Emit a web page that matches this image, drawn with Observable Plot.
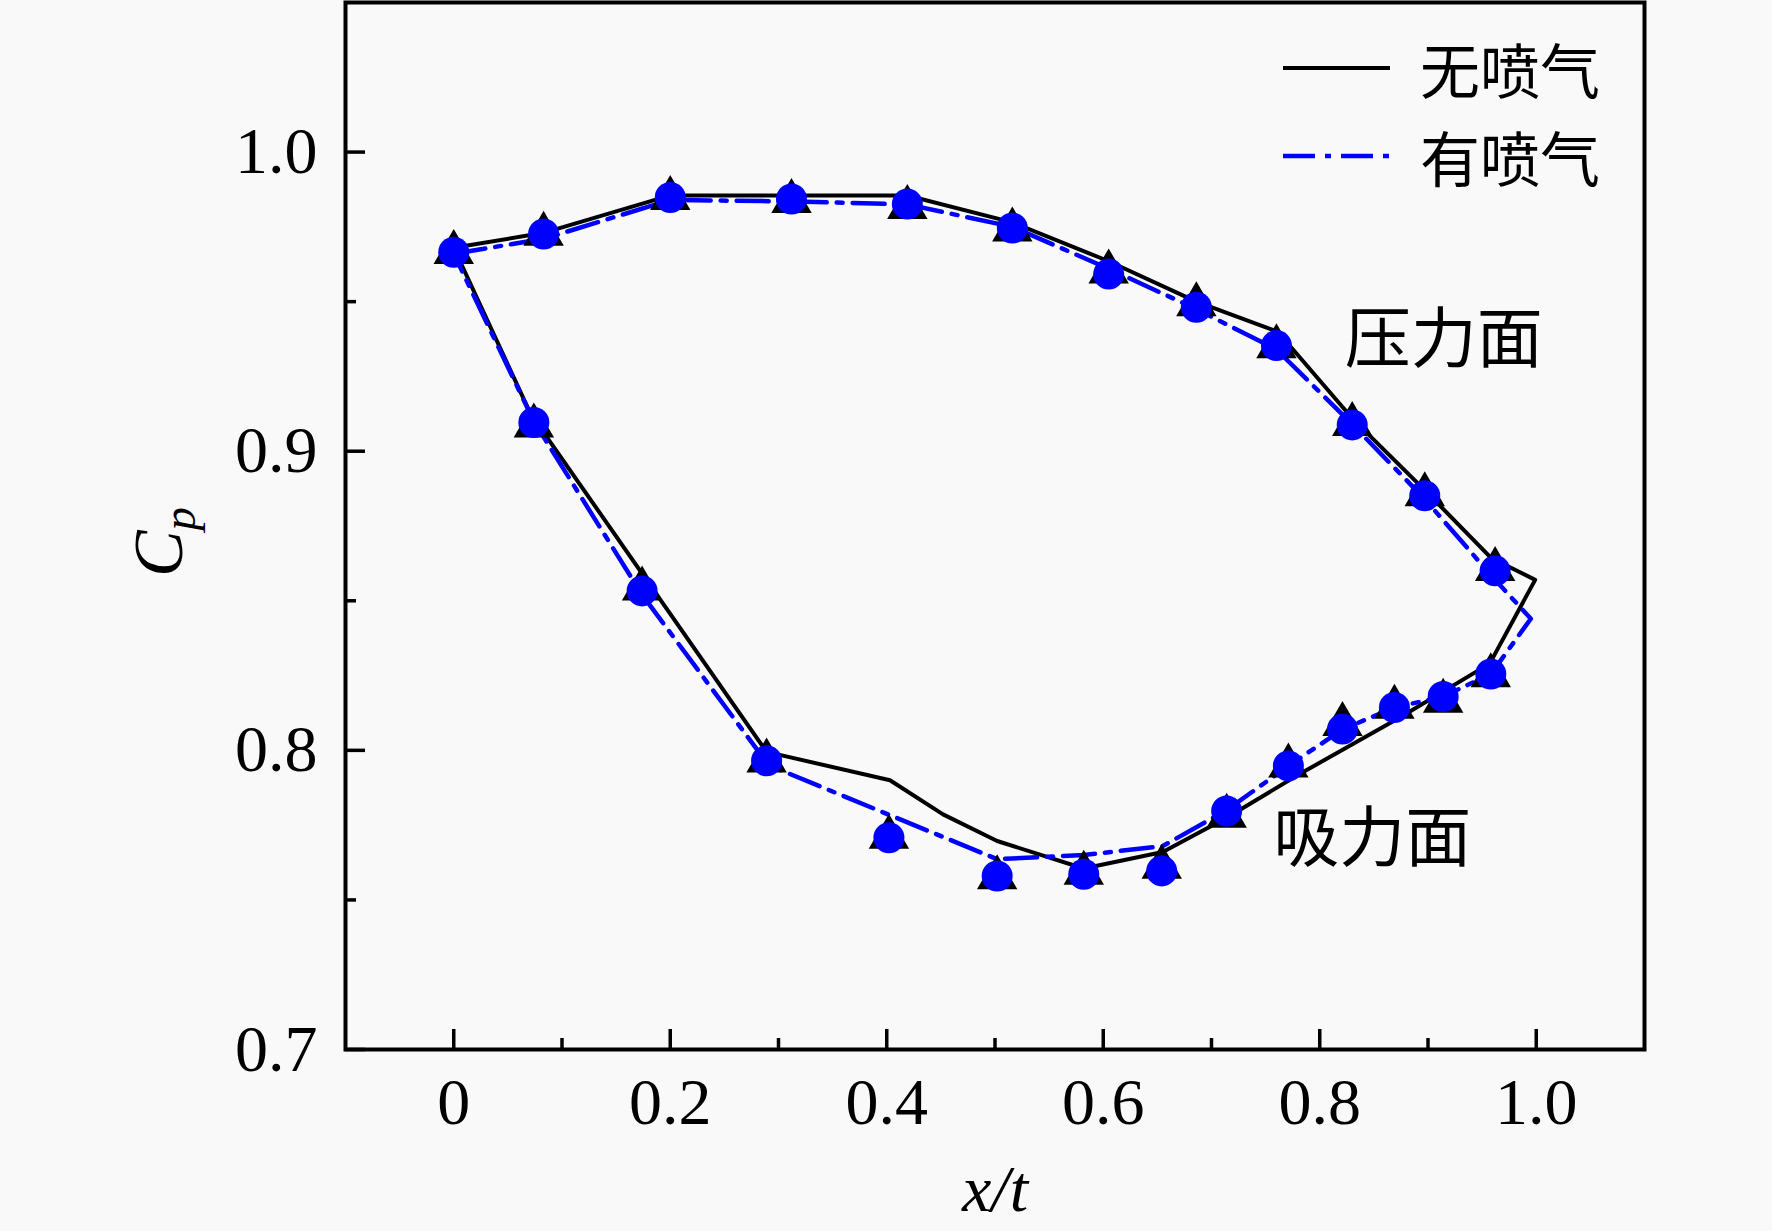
<!DOCTYPE html>
<html>
<head>
<meta charset="utf-8">
<script src="https://cdn.jsdelivr.net/npm/d3@7"></script>
<script src="https://cdn.jsdelivr.net/npm/@observablehq/plot@0.6"></script>
<style>
  html, body { margin: 0; padding: 0; background: #f9f9f9; }
  #wrap { position: relative; width: 1772px; height: 1231px; overflow: hidden; }
  .legend-row { position: absolute; left: 1283px; height: 80px; display: flex; align-items: center;
    font-family: "Noto Sans CJK SC", sans-serif; font-size: 60px; line-height: 80px; color: #000; white-space: nowrap; }
  .legend-row svg { margin-right: 30px; flex: none; }
</style>
</head>
<body>
<div id="wrap"></div>
<script>
// ---------- data ----------
const xTicks = [0, 0.2, 0.4, 0.6, 0.8, 1.0];
const xTickLabels = ["0", "0.2", "0.4", "0.6", "0.8", "1.0"];
const xMinorTicks = [0.1, 0.3, 0.5, 0.7, 0.9];
const yTicks = [0.7, 0.8, 0.9, 1.0];
const yTickLabels = ["0.7", "0.8", "0.9", "1.0"];
const yMinorTicks = [0.75, 0.85, 0.95];

const seriesNames = ["无喷气", "有喷气"];
const surfaceLabels = ["压力面", "吸力面"];
const surfaceLabelX = [0.823, 0.757];
const surfaceLabelY = [0.937, 0.770];
const xAxisTitle = "x/t";
const yAxisTitle = "C";
const yAxisTitleSub = "p";

// 无喷气 curve (pressure side then suction side back to leading edge)
const noJetLineX = [0, 0.083, 0.200, 0.312, 0.419, 0.516, 0.605, 0.686, 0.761, 0.830, 0.897, 0.958, 0.999,
                    0.957, 0.874, 0.781, 0.714, 0.655, 0.582, 0.502, 0.452, 0.403, 0.289, 0.071, 0];
const noJetLineY = [0.968, 0.973, 0.9855, 0.9855, 0.9855, 0.9765, 0.9635, 0.950, 0.940, 0.911, 0.887, 0.8644, 0.857,
                    0.829, 0.811, 0.792, 0.7775, 0.766, 0.7605, 0.7697, 0.7786, 0.790, 0.7995, 0.9125, 0.968];

// 有喷气 curve
const jetLineX = [0, 0.083, 0.200, 0.312, 0.419, 0.516, 0.605, 0.686, 0.760, 0.830, 0.897, 0.962, 0.995,
                  0.958, 0.914, 0.869, 0.821, 0.771, 0.714, 0.655, 0.582, 0.502, 0.291, 0.174, 0.074, 0];
const jetLineY = [0.966, 0.971, 0.984, 0.9835, 0.9825, 0.975, 0.961, 0.9475, 0.934, 0.909, 0.884, 0.857, 0.844,
                  0.8255, 0.818, 0.8143, 0.807, 0.7948, 0.780, 0.768, 0.765, 0.7636, 0.795, 0.852, 0.910, 0.966];

// measured points (pressure side, then suction side)
const markerX = [0, 0.083, 0.200, 0.312, 0.419, 0.516, 0.605, 0.686, 0.760, 0.830, 0.897, 0.962,
                 0.074, 0.174, 0.289, 0.402, 0.502, 0.582, 0.654, 0.714, 0.771, 0.821, 0.869, 0.914, 0.958];
const noJetMarkY = [0.9665, 0.9726, 0.9845, 0.9835, 0.9815, 0.9740, 0.9600, 0.9490, 0.9350, 0.9090, 0.8855, 0.8605,
                    0.9085, 0.8540, 0.7965, 0.7710, 0.7575, 0.7590, 0.7610, 0.7780, 0.7948, 0.8087, 0.8145, 0.8165, 0.8250];
const jetMarkY = [0.9665, 0.9726, 0.9848, 0.9843, 0.9826, 0.9746, 0.9592, 0.9481, 0.9353, 0.9088, 0.8851, 0.8600,
                  0.9096, 0.8533, 0.7965, 0.7708, 0.7580, 0.7586, 0.7597, 0.7797, 0.7948, 0.8071, 0.8143, 0.8180, 0.8255];

// ---------- tables ----------
const noJetLine = noJetLineX.map((x, i) => ({x, y: noJetLineY[i]}));
const jetLine = jetLineX.map((x, i) => ({x, y: jetLineY[i]}));
const noJetMarks = markerX.map((x, i) => ({x, y: noJetMarkY[i]}));
const jetMarks = markerX.map((x, i) => ({x, y: jetMarkY[i]}));
const surfaceText = surfaceLabels.map((t, i) => ({t, x: surfaceLabelX[i], y: surfaceLabelY[i]}));

const BLUE = "#0000ff";
const DASH = "32 10 6 10";
const SERIF = "Liberation Serif, Times New Roman, serif";
const CJK = "Noto Sans CJK SC, sans-serif";

const chart = Plot.plot({
  width: 1772,
  height: 1231,
  marginLeft: 345,
  marginRight: 128,
  marginTop: 2,
  marginBottom: 182,
  style: {background: "#f9f9f9", fontFamily: SERIF, fontSize: "66px", color: "black"},
  x: {domain: [-0.1, 1.1]},
  y: {domain: [0.7, 1.05]},
  marks: [
    // inward ticks
    Plot.axisX(xTicks, {tickSize: -20, strokeWidth: 3.5, fill: "none", label: null}),
    Plot.axisX(xMinorTicks, {tickSize: -11, strokeWidth: 3.5, fill: "none", label: null}),
    Plot.axisY(yTicks, {tickSize: -20, strokeWidth: 3.5, fill: "none", label: null}),
    Plot.axisY(yMinorTicks, {tickSize: -11, strokeWidth: 3.5, fill: "none", label: null}),
    // tick labels
    Plot.axisX(xTicks, {tickSize: 0, tickPadding: 28, tickFormat: (d, i) => xTickLabels[i], label: null, fontSize: 66}),
    Plot.axisY(yTicks, {tickSize: 0, tickPadding: 28, tickFormat: (d, i) => yTickLabels[i], label: null, fontSize: 66}),
    // curves
    Plot.line(noJetLine, {x: "x", y: "y", stroke: "black", strokeWidth: 4, curve: "linear"}),
    Plot.line(jetLine, {x: "x", y: "y", stroke: BLUE, strokeWidth: 4.5, strokeDasharray: DASH, curve: "linear"}),
    // markers
    Plot.dot(noJetMarks, {x: "x", y: "y", symbol: "triangle", r: 15, fill: "black", stroke: "none"}),
    Plot.dot(jetMarks, {x: "x", y: "y", symbol: "circle", r: 15.5, fill: BLUE, stroke: "none"}),
    // surface annotations
    Plot.text(surfaceText, {x: "x", y: "y", text: "t", textAnchor: "start", lineAnchor: "middle",
      fontFamily: CJK, fontSize: 66, fill: "black"}),
    // axis titles
    Plot.text([xAxisTitle], {text: d => d, frameAnchor: "bottom", dy: 140, lineAnchor: "middle",
      fontStyle: "italic", fontSize: 66, fill: "black"}),
    Plot.text([yAxisTitle], {text: d => d, frameAnchor: "left", dx: -186, dy: 16, rotate: -90, lineAnchor: "middle",
      textAnchor: "middle", fontStyle: "italic", fontSize: 70, fill: "black"}),
    Plot.frame({stroke: "black", strokeWidth: 4})
  ]
});

document.getElementById("wrap").appendChild(chart);

// subscript p on the y title
d3.select(chart).selectAll("text")
  .filter(function () { return this.textContent === yAxisTitle; })
  .each(function () {
    d3.select(this).append("tspan").attr("dy", "0.28em").attr("font-size", 47).text(yAxisTitleSub);
  });

// legend (HTML overlay, inside the frame at top right)
const legendStyles = [
  {stroke: "black", dash: null, width: 4},
  {stroke: BLUE, dash: DASH, width: 4.5}
];
const legendTops = [28, 116];
seriesNames.forEach((name, i) => {
  const row = document.createElement("div");
  row.className = "legend-row";
  row.style.top = legendTops[i] + "px";
  const s = legendStyles[i];
  row.innerHTML = `<svg width="107" height="20"><line x1="0" x2="107" y1="10" y2="10" stroke="${s.stroke}" stroke-width="${s.width}" ${s.dash ? `stroke-dasharray="${s.dash}"` : ""}/></svg><span>${name}</span>`;
  document.getElementById("wrap").appendChild(row);
});
</script>
</body>
</html>
